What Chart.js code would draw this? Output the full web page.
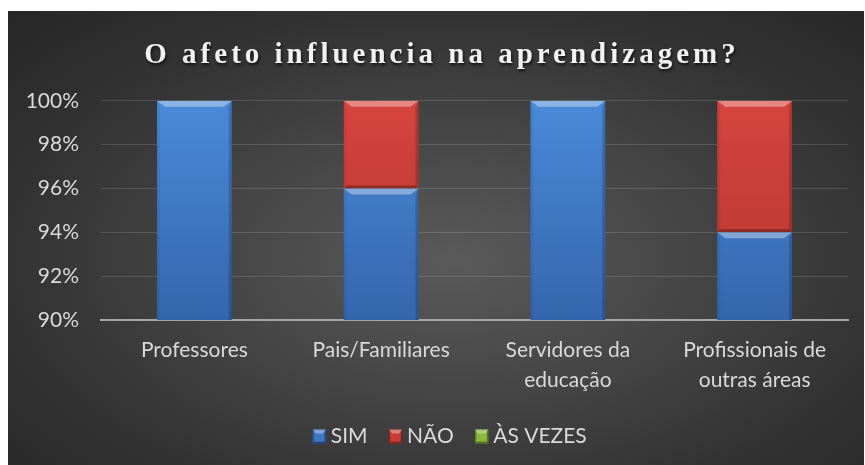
<!DOCTYPE html>
<html><head><meta charset="utf-8">
<script src="https://cdn.jsdelivr.net/npm/chart.js@4"></script>
<style>
html,body{margin:0;padding:0;background:#fff;width:865px;height:465px;overflow:hidden}
#wrap{position:absolute;left:8px;top:11px;width:856px;height:454px;
background:radial-gradient(ellipse farthest-corner at 52% 55%, #5a5a5a 0%, #474747 35%, #333333 70%, #262626 100%);}
canvas{display:block}
</style></head><body>
<div id="wrap"><canvas id="c" width="856" height="454"></canvas></div>
<script>
const titleText = 'O afeto influencia na aprendizagem?';
const categories = ['Professores', 'Pais/Familiares', ['Servidores da', 'educação'], ['Profissionais de', 'outras áreas']];
const seriesNames = ['SIM', 'NÃO', 'ÀS VEZES'];
const simValues = [100, 96, 100, 94];
const naoValues = [0, 4, 0, 6];
const asVezesValues = [0, 0, 0, 0];
const yTickValues = [90, 92, 94, 96, 98, 100];

const palettes = [
  {top:'#4a8ad8', bottom:'#3566ad', legend:'#3d76c4', edge:'#2a5590'},
  {top:'#d6453e', bottom:'#b3342e', legend:'#c93c36', edge:'#8e2824'},
  {top:'#9cc64a', bottom:'#7ea338', legend:'#8db83f', edge:'#5f7d2a'}
];

function grad(i){
  return function(ctx){
    const ca = ctx.chart.chartArea;
    if(!ca) return palettes[i].legend;
    const g = ctx.chart.ctx.createLinearGradient(0, ca.top, 0, ca.bottom);
    g.addColorStop(0, palettes[i].top);
    g.addColorStop(1, palettes[i].bottom);
    return g;
  };
}

function poly(ctx, pts){
  ctx.beginPath();
  ctx.moveTo(pts[0], pts[1]);
  for(let k=2;k<pts.length;k+=2) ctx.lineTo(pts[k], pts[k+1]);
  ctx.closePath();
  ctx.fill();
}

function bevelRect(ctx, l, top, r, bot, bx, by, side, bottomDepth){
  ctx.fillStyle = 'rgba(255,255,255,0.36)';
  poly(ctx, [l,top, r,top, r-bx,top+by, l+bx,top+by]);
  ctx.fillStyle = 'rgba(0,0,0,0.05)';
  poly(ctx, [l,top, l+side,top+by, l+side,bot-bottomDepth, l,bot]);
  ctx.fillStyle = 'rgba(0,0,0,0.18)';
  poly(ctx, [r,top, r,bot, r-side,bot-bottomDepth, r-side,top+by]);
  ctx.fillStyle = 'rgba(0,0,0,0.28)';
  poly(ctx, [l,bot, l+side,bot-bottomDepth, r-side,bot-bottomDepth, r,bot]);
}

const bevelPlugin = {
  id:'bevel',
  afterDatasetsDraw(chart){
    const ctx = chart.ctx;
    const ca = chart.chartArea;
    ctx.save();
    ctx.beginPath();
    ctx.rect(ca.left, ca.top, ca.right - ca.left, ca.bottom - ca.top);
    ctx.clip();
    chart.data.datasets.forEach((ds, i) => {
      const meta = chart.getDatasetMeta(i);
      if(meta.hidden) return;
      meta.data.forEach(bar => {
        const p = bar.getProps(['x','y','base','width'], true);
        const top = Math.min(p.y, p.base), bot = Math.max(p.y, p.base);
        const h = bot - top; if(h < 1) return;
        const l = p.x - p.width/2, r = p.x + p.width/2;
        bevelRect(ctx, l, top, r, bot, Math.min(8, p.width/2), Math.min(6, h/2), 3, 3);
      });
    });
    ctx.restore();
  }
};

const LEG_BOX_W = 13, LEG_BOX_H = 14, LEG_BOX_SHIFT = 5.5;

const decoratePlugin = {
  id:'decorate',
  afterInit(chart){
    const tb = chart.titleBlock;
    if(tb){
      const orig = tb.draw.bind(tb);
      tb.draw = function(){
        const ctx = this.ctx;
        ctx.save();
        ctx.translate(14, 0);
        try { ctx.letterSpacing = '4px'; } catch(e) {}
        ctx.shadowColor = 'rgba(0,0,0,0.7)';
        ctx.shadowOffsetX = 1; ctx.shadowOffsetY = 2; ctx.shadowBlur = 3;
        orig();
        ctx.restore();
      };
    }
    const lg = chart.legend;
    if(lg){
      const origL = lg.draw.bind(lg);
      lg.draw = function(){
        const ctx = this.ctx;
        ctx.save();
        ctx.translate(19, 0);
        origL();
        const fs = this.options.labels.font.size;
        (this.legendHitBoxes || []).forEach((hb, i) => {
          const x = hb.left + LEG_BOX_SHIFT, y = hb.top + (Math.max(fs, LEG_BOX_H) - LEG_BOX_H) / 2;
          ctx.fillStyle = palettes[i].legend;
          ctx.fillRect(x, y, LEG_BOX_W, LEG_BOX_H);
          ctx.strokeStyle = palettes[i].edge;
          ctx.lineWidth = 1;
          ctx.strokeRect(x + 0.5, y + 0.5, LEG_BOX_W - 1, LEG_BOX_H - 1);
          bevelRect(ctx, x, y, x + LEG_BOX_W, y + LEG_BOX_H, 3, 4, 1.5, 2);
        });
        ctx.restore();
      };
    }
  }
};

const valueSets = [simValues, naoValues, asVezesValues];

new Chart(document.getElementById('c'), {
  type:'bar',
  data:{
    labels: categories,
    datasets: seriesNames.map((name, i) => ({
      label: name,
      data: valueSets[i],
      backgroundColor: grad(i),
      borderWidth: 0,
      categoryPercentage: 1,
      barPercentage: 0.4
    }))
  },
  options:{
    responsive:false,
    animation:false,
    devicePixelRatio:1,
    layout:{padding:{left:0, right:16, top:0, bottom:8}},
    plugins:{
      title:{
        display:true, text:titleText, color:'#f2f2f2',
        font:{family:'"Liberation Serif", "Times New Roman", serif', size:29, weight:'bold', lineHeight:1.2},
        padding:{top:27, bottom:28}
      },
      legend:{
        position:'bottom',
        labels:{
          color:'#d9d9d9', boxWidth:LEG_BOX_W, boxHeight:LEG_BOX_H, padding:16,
          font:{family:'Lato, sans-serif', size:21},
          generateLabels(chart){
            return chart.data.datasets.map((ds, i) => ({
              text: ds.label, fillStyle: 'rgba(0,0,0,0)', strokeStyle: 'rgba(0,0,0,0)',
              lineWidth:0, fontColor:'#d9d9d9', hidden:false, datasetIndex:i
            }));
          }
        }
      },
      tooltip:{enabled:false}
    },
    scales:{
      x:{
        stacked:true,
        grid:{display:false, drawTicks:false},
        border:{display:true, color:'#a6a6a6', width:2},
        ticks:{color:'#d9d9d9', padding:16, maxRotation:0, autoSkip:false,
          font:{family:'Lato, sans-serif', size:21, lineHeight:1.4}},
        afterFit(s){ s.height = 90; }
      },
      y:{
        stacked:true, min:90, max:100,
        grid:{color:'rgba(255,255,255,0.14)', lineWidth:1, drawTicks:false},
        border:{display:false},
        ticks:{color:'#d9d9d9', padding:22, font:{family:'Lato, sans-serif', size:21},
          callback:v => v + '%'},
        afterBuildTicks(s){ s.ticks = yTickValues.map(v => ({value:v})); },
        afterFit(s){ s.width = 93; }
      }
    }
  },
  plugins:[bevelPlugin, decoratePlugin]
});
</script>
</body></html>
